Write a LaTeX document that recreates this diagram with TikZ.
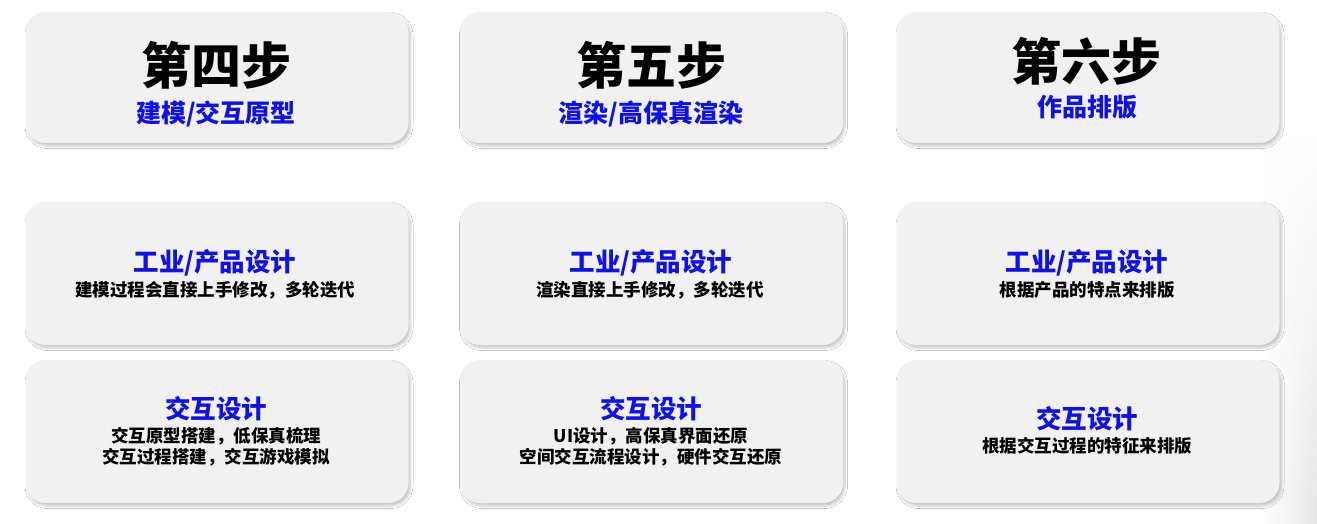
\documentclass[tikz,border=0pt]{standalone}
\usepackage{fontspec}
\setmainfont{Noto Sans CJK SC}
\usetikzlibrary{shadows.blur,fadings}
\definecolor{boxgray}{HTML}{F1F1F1}
\definecolor{tblue}{HTML}{1010E8}
\definecolor{edgegray}{HTML}{E6E6E6}
\begin{document}
\begin{tikzpicture}[x=1pt,y=-1pt,
  card/.style={draw=none, fill=boxgray, rounded corners=20pt, minimum width=383pt, minimum height=#1, inner sep=0pt,
    blur shadow={shadow xshift=2pt, shadow yshift=-3pt, shadow blur radius=2.5pt, shadow blur steps=8, shadow opacity=22}},
  bigtitle/.style={font=\fontsize{50}{50}\selectfont\bfseries, text=black, inner sep=0pt},
  bluesub/.style={font=\fontsize{25}{25}\selectfont\bfseries, text=tblue, inner sep=0pt},
  bluehead/.style={font=\fontsize{25.5}{25.5}\selectfont\bfseries, text=tblue, inner sep=0pt},
  blackline/.style={font=\fontsize{17.5}{21}\selectfont\bfseries, text=black, inner sep=0pt, align=center}]
\useasboundingbox (0,0) rectangle (1317,524);
\fill[white] (0,0) rectangle (1317,524);
% soft grey edge on the right
\shade[left color=white, right color=edgegray, path fading=north] (1262,140) rectangle (1317,524);

% row 1
\node[card=131pt] (c1) at (217,77.5) {};
\node[card=131pt] (c2) at (651.5,77.5) {};
\node[card=131pt] (c3) at (1088,77.5) {};
\node[bigtitle] (t1) at (216,65) {第四步};
\node[bluesub] (s1) at (216,114) {建模/交互原型};
\node[bigtitle] (t2) at (651,65) {第五步};
\node[bluesub] (s2) at (651,114) {渲染/高保真渲染};
\node[bigtitle] (t3) at (1086,61) {第六步};
\node[bluesub] (s3) at (1087,107) {作品排版};

% row 2
\node[card=143pt] (d1) at (217,273.5) {};
\node[card=143pt] (d2) at (651.5,273.5) {};
\node[card=143pt] (d3) at (1088,273.5) {};
\node[bluehead] (h1) at (215,263) {工业/产品设计};
\node[blackline] (l1) at (215,290) {建模过程会直接上手修改，多轮迭代};
\node[bluehead] (h2) at (651,263) {工业/产品设计};
\node[blackline] (l2) at (650,290) {渲染直接上手修改，多轮迭代};
\node[bluehead] (h3) at (1087,263) {工业/产品设计};
\node[blackline] (l3) at (1087,290) {根据产品的特点来排版};

% row 3
\node[card=143pt] (e1) at (217,431.5) {};
\node[card=143pt] (e2) at (651.5,431.5) {};
\node[card=143pt] (e3) at (1088,431.5) {};
\node[bluehead] (g1) at (216,409) {交互设计};
\node[blackline] (m1) at (216,447) {交互原型搭建，低保真梳理\\交互过程搭建，交互游戏模拟};
\node[bluehead] (g2) at (651,409) {交互设计};
\node[blackline] (m2) at (651,447) {UI设计，高保真界面还原\\空间交互流程设计，硬件交互还原};
\node[bluehead] (g3) at (1087,419) {交互设计};
\node[blackline] (m3) at (1087,446) {根据交互过程的特征来排版};
\end{tikzpicture}
\end{document}
